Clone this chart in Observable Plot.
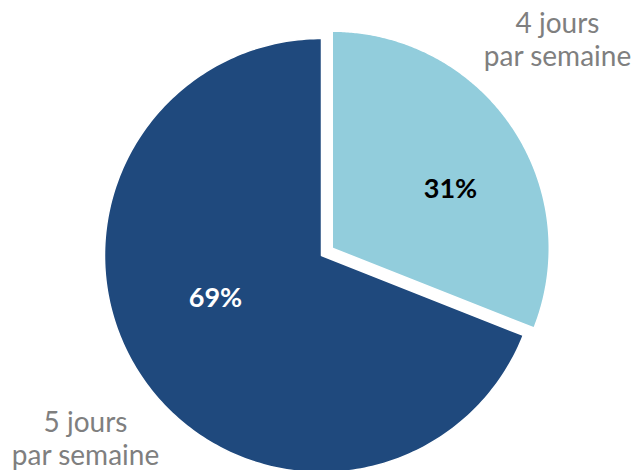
<!DOCTYPE html>
<html>
<head>
<meta charset="utf-8">
<script src="https://cdn.jsdelivr.net/npm/d3@7"></script>
<script src="https://cdn.jsdelivr.net/npm/@observablehq/plot@0.6"></script>
<style>
  html, body { margin: 0; padding: 0; background: #fff; }
  #chart { width: 635px; height: 470px; }
</style>
</head>
<body>
<div id="chart"></div>
<script>
// ---- Data ----
const categories = ["4 jours par semaine", "5 jours par semaine"];
const shares = [31, 69];
const valueLabels = ["31%", "69%"];
const categoryLines = [["4 jours", "par semaine"], ["5 jours", "par semaine"]];
const colors = ["#92CDDC", "#1F497D"];
const valueLabelColors = ["#000000", "#ffffff"];

// ---- Layout (pixels) ----
const W = 635, H = 470;
const cx = 321, cy = 255, R = 217;
const explode = [0.06, 0];                       // fraction of radius
const valueAnchors = [[450, 189], [215, 298]];   // label anchor, px
const catAnchors = [[557, 38.5], [85, 437.5]];   // label anchor, px

// unit space: radius = 1
const xDomain = [-cx / R, (W - cx) / R];
const yDomain = [-(H - cy) / R, cy / R];
const toUnit = ([px, py]) => [(px - cx) / R, (cy - py) / R];

const pie = d3.pie().sort(null).value(d => d)(shares);
const polar = (a, r) => [r * Math.sin(a), r * Math.cos(a)];

const slices = [];
pie.forEach((p, i) => {
  const mid = (p.startAngle + p.endAngle) / 2;
  const [ox, oy] = polar(mid, explode[i]);
  const n = 240;
  slices.push({k: i, x: ox, y: oy});
  for (let j = 0; j <= n; j++) {
    const a = p.startAngle + (p.endAngle - p.startAngle) * j / n;
    const [x, y] = polar(a, 1);
    slices.push({k: i, x: x + ox, y: y + oy});
  }
  slices.push({k: i, x: ox, y: oy});
});

const valueText = valueLabels.map((t, i) => {
  const [x, y] = toUnit(valueAnchors[i]);
  return {text: t, x, y, fill: valueLabelColors[i]};
});

const catText = categoryLines.map((lines, i) => {
  const [x, y] = toUnit(catAnchors[i]);
  return {text: lines.join("\n"), x, y};
});

const marks = [];
colors.forEach((c, i) => {
  marks.push(Plot.line(slices.filter(d => d.k === i), {
    x: "x", y: "y", fill: c, stroke: "#ffffff", strokeWidth: 1.5, curve: "linear"
  }));
});
marks.push(Plot.text(valueText, {
  x: "x", y: "y", text: "text", fill: "fill",
  fontSize: 27, fontWeight: "bold", fontFamily: "Lato"
}));
marks.push(Plot.text(catText, {
  x: "x", y: "y", text: "text", fill: "#7F7F7F",
  fontSize: 28, lineHeight: 1.18, fontFamily: "Lato"
}));

const chart = Plot.plot({
  width: W, height: H,
  margin: 0,
  x: {domain: xDomain, axis: null},
  y: {domain: yDomain, axis: null},
  style: {background: "#ffffff"},
  marks
});
document.getElementById("chart").appendChild(chart);
</script>
</body>
</html>
